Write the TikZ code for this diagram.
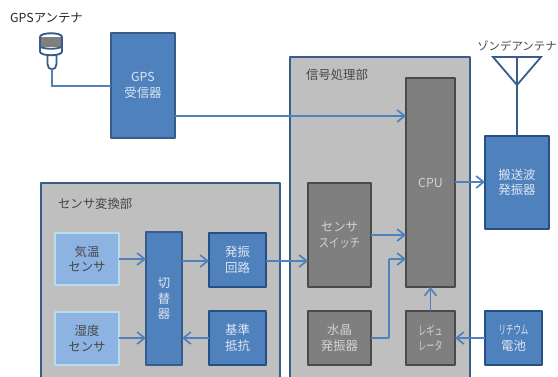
\documentclass[tikz,border=0pt]{standalone}
\usepackage{fontspec}
\usepackage{graphicx}
\setmainfont{Noto Sans CJK JP}
\usetikzlibrary{arrows.meta}
\definecolor{flow}{HTML}{4F81BD}
\definecolor{blueedge}{HTML}{385D8A}
\definecolor{deepedge}{HTML}{254F85}
\definecolor{panelfill}{HTML}{BFBFBF}
\definecolor{grayfill}{HTML}{7F7F7F}
\definecolor{grayedge}{HTML}{4A4A4A}
\definecolor{lightfill}{HTML}{8DB3E2}
\definecolor{lightedge}{HTML}{B7DDE8}
\definecolor{softtext}{HTML}{DCE6F2}
\tikzset{
  x=1pt,y=-1pt,
  every node/.style={font=\fontsize{12.4}{15.5}\selectfont,align=center,inner sep=0pt,outer sep=0pt},
  box/.style={anchor=north west,line join=round,text=softtext},
  panel/.style={box,fill=panelfill,draw=blueedge,line width=2.2pt},
  bluebox/.style={box,fill=flow,draw=blueedge,line width=2.4pt},
  deepbox/.style={box,fill=flow,draw=deepedge,line width=2.6pt},
  graybox/.style={box,fill=grayfill,draw=grayedge,line width=2.6pt,text=panelfill!70!white},
  lightbox/.style={box,fill=lightfill,draw=lightedge,line width=2.6pt,text=black!72},
  lbl/.style={text=black!72},
  flowline/.style={draw=flow,line width=1.9pt},
  arrowline/.style={flowline,-{Straight Barb[length=7.5pt,width=12pt,line width=1.7pt]}},
}
\newcommand{\narrow}[2]{\scalebox{#1}[1]{#2}}
\begin{document}
\begin{tikzpicture}
\useasboundingbox (0,0) rectangle (558,376);
\begin{scope}
\clip (0,0) rectangle (558,376);
\fill[white] (0,0) rectangle (558,376);

% panels
\node[panel,minimum width=239pt,minimum height=230pt] (conv) at (41,183) {};
\node[panel,minimum width=180pt,minimum height=360pt] (sig) at (290,57) {};
\node[lbl,anchor=west] (convt) at (58,204) {センサ変換部};
\node[lbl,anchor=west] (sigt) at (306,75) {信号処理部};

% blocks
\node[bluebox,minimum width=64pt,minimum height=105pt] (gps) at (111,33) {GPS\\受信器};
\node[lightbox,minimum width=64pt,minimum height=52pt] (temp) at (55,233) {気温\\センサ};
\node[lightbox,minimum width=64pt,minimum height=53pt] (hum) at (55,312) {湿度\\センサ};
\node[bluebox,minimum width=36pt,minimum height=133pt] (sw) at (146,232) {切\\替\\器};
\node[deepbox,minimum width=57pt,minimum height=54pt] (osc) at (209,233) {発振\\回路};
\node[deepbox,minimum width=57pt,minimum height=54pt] (ref) at (209,311) {基準\\抵抗};
\node[graybox,minimum width=49pt,minimum height=209pt] (cpu) at (406,78) {CPU};
\node[graybox,minimum width=63pt,minimum height=104pt] (ssw) at (308,183) {センサ\\\narrow{0.83}{スイッチ}};
\node[graybox,minimum width=63pt,minimum height=54pt] (xtal) at (308,311) {水晶\\発振器};
\node[graybox,minimum width=49pt,minimum height=54pt] (reg) at (406,311) {\narrow{0.65}{レギュ}\\\narrow{0.65}{レータ}};
\node[deepbox,minimum width=64pt,minimum height=93pt] (tx) at (485,136) {搬送波\\発振器};
\node[deepbox,minimum width=57pt,minimum height=54pt] (bat) at (485,311) {\narrow{0.6}{リチウム}\\電池};

% antenna labels
\node[text=black!85] (gpsl) at (46.5,18) {GPSアンテナ};
\node[lbl,font=\fontsize{11.4}{14}\selectfont] (sonl) at (517,46) {ゾンデアンテナ};

% GPS antenna icon
\coordinate (gant) at (52,69);
\draw[blueedge,line width=1.8pt,fill=white,rounded corners=2pt] (47.5,54) -- (47.5,66) -- (50,69.5) -- (54,69.5) -- (56.5,66) -- (56.5,54);
\draw[blueedge,line width=1.9pt,fill=white] (40,37) -- (40,51.5) .. controls (40,56.5) and (62,56.5) .. (62,51.5) -- (62,37) .. controls (62,32) and (40,32) .. (40,37) -- cycle;
\path[fill=grayfill] (41,37) rectangle (61,46.5);
\draw[blueedge,line width=1.8pt] (40,46.5) .. controls (44,49.5) and (58,49.5) .. (62,46.5);
\draw[flowline] (gant) |- (gps.west |- 0,86);

% sonde antenna
\coordinate (sa) at (493,57);
\coordinate (sb) at (541,57);
\coordinate (sc) at (517,85);
\coordinate (sd) at (517,57);
\draw[blueedge,line width=1.8pt,line join=miter] (sa) -- (sb) -- (sc) -- cycle;
\draw[blueedge,line width=1.8pt] (sd) -- (tx.north -| sd);

% connectors
\draw[arrowline] (gps.east |- 0,116) -- (cpu.west |- 0,116);
\draw[arrowline] (temp.east |- 0,259) -- (sw.west |- 0,259);
\draw[arrowline] (hum.east |- 0,338) -- (sw.west |- 0,338);
\draw[arrowline] (sw.east |- 0,261) -- (osc.west |- 0,261);
\draw[arrowline] (ref.west |- 0,338) -- (sw.east |- 0,338);
\draw[arrowline] (osc.east |- 0,261) -- (ssw.west |- 0,261);
\draw[arrowline] (ssw.east |- 0,235) -- (cpu.west |- 0,235);
\draw[arrowline,rounded corners=1pt] (xtal.east |- 0,338) -| (389,259) -- (cpu.west |- 0,259);
\draw[arrowline] (reg.north) -- (cpu.south);
\draw[arrowline] (bat.west |- 0,338) -- (reg.east |- 0,338);
\draw[arrowline] (cpu.east |- 0,182) -- (tx.west |- 0,182);
\end{scope}
\end{tikzpicture}
\end{document}
